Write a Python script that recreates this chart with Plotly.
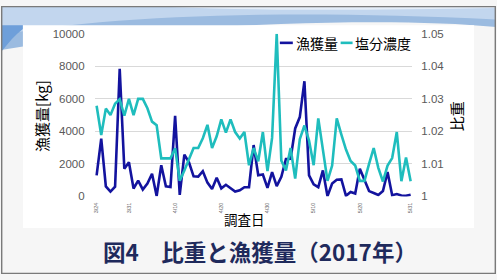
import pandas as pd
import plotly.graph_objects as go

W, H = 497, 280

# ---- data ----
start_date = "2017-03-24"
n_days = 69
dates = pd.date_range(start_date, periods=n_days, freq="D")

catch_kg = [
    1300, 3550, 620, 300, 600, 7850, 1700, 2100, 490, 970,
    430, 800, 1400, 30, 1920, 620, 580, 4950, 100, 2570,
    2100, 1240, 1220, 1550, 850, 460, 1150, 500, 720, 500,
    300, 380, 570, 570, 3160, 1300, 1350, 530, 1500, 640,
    1210, 2300, 2320, 4180, 4880, 7080, 1300, 740, 570, 1600,
    20, 790, 1030, 1050, 40, 280, 180, 1710, 1060, 330,
    210, 90, 330, 1500, 80, 150, 60, 40, 100,
]

specific_gravity = [
    1.0279, 1.0189, 1.0270, 1.0250, 1.0285, 1.0299, 1.0248, 1.0300, 1.0250, 1.0300,
    1.0300, 1.0271, 1.0230, 1.0219, 1.0117, 1.0117, 1.0117, 1.0148, 1.0048, 1.0080,
    1.0115, 1.0149, 1.0149, 1.0179, 1.0220, 1.0149, 1.0185, 1.0237, 1.0196, 1.0237,
    1.0198, 1.0178, 1.0198, 1.0096, 1.0149, 1.0108, 1.0198, 1.0078, 1.0180, 1.0500,
    1.0110, 1.0080, 1.0149, 1.0055, 1.0176, 1.0218, 1.0172, 1.0096, 1.0240, 1.0141,
    1.0048, 1.0095, 1.0240, 1.0190, 1.0144, 1.0109, 1.0095, 1.0048, 1.0048, 1.0100,
    1.0149, 1.0088, 1.0046, 1.0095, 1.0118, 1.0198, 1.0047, 1.0120, 1.0047,
]

x_tick_dates = ["2017-03-24", "2017-03-31", "2017-04-10", "2017-04-20",
                "2017-04-30", "2017-05-10", "2017-05-20", "2017-05-31"]
x_tick_text = ["3/24", "3/31", "4/10", "4/20", "4/30", "5/10", "5/20", "5/31"]

y1_ticks = [0, 2000, 4000, 6000, 8000, 10000]
y1_text = ["0", "2000", "4000", "6000", "8000", "10000"]
y2_ticks = [1.00, 1.01, 1.02, 1.03, 1.04, 1.05]
y2_text = ["1", "1.01", "1.02", "1.03", "1.04", "1.05"]

name_catch = "漁獲量"
name_sg = "塩分濃度"
title_text = "図4　比重と漁獲量（2017年）"

# ---- style ----
BLUE = "#13139e"
CYAN = "#1fbdbd"
JP = "Noto Sans CJK JP"
NUM = "Liberation Sans, Arial, sans-serif"

def px(x):
    return x / W

def py(y):
    return 1 - y / H

# plot area in pixels
L, R, T, B = 94, 413, 29, 199

fig = go.Figure()
fig.add_trace(go.Scatter(x=dates, y=catch_kg, name=name_catch, mode="lines",
                         line=dict(color=BLUE, width=2.6), yaxis="y"))
fig.add_trace(go.Scatter(x=dates, y=specific_gravity, name=name_sg, mode="lines",
                         line=dict(color=CYAN, width=2.6), yaxis="y2"))

shapes = []
# top blue wave band
shapes.append(dict(type="path", xref="paper", yref="paper", layer="below",
                   path=f"M 0 1 L 1 1 L 1 {py(22)} C {px(380)} {py(10)} {px(150)} {py(20)} 0 {py(46)} Z",
                   fillcolor="#9bbbe0", line=dict(width=0)))
shapes.append(dict(type="path", xref="paper", yref="paper", layer="below",
                   path=f"M 0 {py(30)} C {px(120)} {py(8)} {px(300)} {py(4)} {px(497)} {py(14)} L 1 1 L 0 1 Z",
                   fillcolor="#c2d6ee", line=dict(width=0)))
shapes.append(dict(type="path", xref="paper", yref="paper", layer="below",
                   path=f"M {px(150)} 1 C {px(260)} {py(6)} {px(380)} {py(4)} {px(497)} {py(2)} L 1 1 Z",
                   fillcolor="#e4edf7", line=dict(width=0)))
shapes.append(dict(type="path", xref="paper", yref="paper", layer="below",
                   path=f"M 0 {py(48)} C {px(8)} {py(38)} {px(14)} {py(30)} {px(22)} {py(24)} L {px(22)} {py(20)} L 0 {py(20)} Z",
                   fillcolor="#6e9fda", line=dict(width=0)))
# white chart box
shapes.append(dict(type="rect", xref="paper", yref="paper", layer="below",
                   x0=px(22), x1=px(475), y0=py(232), y1=py(20),
                   fillcolor="white", line=dict(width=0)))
# outer border
shapes.append(dict(type="rect", xref="paper", yref="paper", layer="above",
                   x0=px(0.7), x1=px(496.3), y0=py(279.3), y1=py(0.7),
                   fillcolor="rgba(0,0,0,0)", line=dict(color="#7a7a7a", width=1.4)))
# legend line glyphs
shapes.append(dict(type="line", xref="paper", yref="paper",
                   x0=px(280), x1=px(293), y0=py(38.5), y1=py(38.5),
                   line=dict(color=BLUE, width=2.6)))
shapes.append(dict(type="line", xref="paper", yref="paper",
                   x0=px(341), x1=px(353), y0=py(38.5), y1=py(38.5),
                   line=dict(color=CYAN, width=2.6)))

annotations = [
    dict(text=name_catch, x=px(294), y=py(38.5), xanchor="left", yanchor="middle",
         font=dict(family=JP, size=14, color="#000")),
    dict(text=name_sg, x=px(353.5), y=py(38.5), xanchor="left", yanchor="middle",
         font=dict(family=JP, size=14, color="#000")),
    dict(text="漁獲量[kg]", x=px(40), y=py(115), textangle=-90, xanchor="center", yanchor="middle",
         font=dict(family=JP, size=15, color="#000")),
    dict(text="比重", x=px(457), y=py(115), textangle=-90, xanchor="center", yanchor="middle",
         font=dict(family=JP, size=15, color="#000")),
    dict(text="調査日", x=px(244), y=py(222.5), xanchor="center", yanchor="middle",
         font=dict(family=JP, size=13.5, color="#000")),
    dict(text="<b>" + title_text + "</b>", x=px(260), y=py(256), xanchor="center", yanchor="middle",
         font=dict(family=JP, size=22.5, color="#1f2a5c")),
]
for a in annotations:
    a.update(xref="paper", yref="paper", showarrow=False)

fig.update_layout(
    width=W, height=H, autosize=False,
    margin=dict(l=0, r=0, t=0, b=0),
    paper_bgcolor="#f6f6f6", plot_bgcolor="white",
    showlegend=False,
    shapes=shapes, annotations=annotations,
    xaxis=dict(type="date", domain=[px(L), px(R)],
               range=["2017-03-23 13:40", "2017-05-31 08:50"],
               tickvals=x_tick_dates, ticktext=x_tick_text, tickangle=-90,
               tickfont=dict(family=NUM, size=5.5, color="#666"),
               showgrid=False, zeroline=False, showline=False, ticks="",
               ticklabelstandoff=4),
    yaxis=dict(domain=[py(B), py(T)], range=[0, 10000], tickvals=y1_ticks, ticktext=y1_text,
               tickfont=dict(family=NUM, size=11.5, color="#595959"),
               showgrid=True, gridcolor="#d9d9d9", gridwidth=1,
               zeroline=False, showline=False, ticks="", ticklabelstandoff=9),
    yaxis2=dict(domain=[py(B), py(T)], range=[1.0, 1.05], overlaying="y", side="right",
                anchor="x", tickvals=y2_ticks, ticktext=y2_text,
                tickfont=dict(family=NUM, size=11.5, color="#595959"),
                showgrid=False, zeroline=False, showline=False, ticks="",
                ticklabelstandoff=8),
)

fig.write_html("out.html")
